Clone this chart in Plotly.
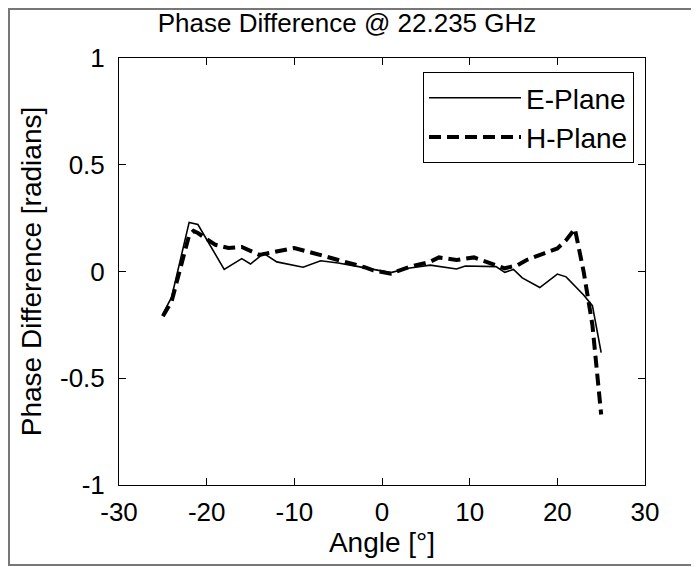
import plotly.graph_objects as go

# E-Plane (solid)
e_angle = [-25, -24, -22, -21, -18, -16, -15, -13.5, -12, -9, -7, -5, -3, -1, 1, 3, 5.5, 8.5, 9.5, 13, 14, 15, 16, 18, 20, 21, 23, 24, 25]
e_phase = [-0.20, -0.12, 0.23, 0.22, 0.01, 0.06, 0.035, 0.085, 0.045, 0.02, 0.05, 0.04, 0.025, 0.01, -0.005, 0.015, 0.03, 0.012, 0.026, 0.023, -0.004, 0.01, -0.03, -0.075, -0.012, -0.025, -0.11, -0.16, -0.38]

# H-Plane (dashed)
h_angle = [-25, -24, -22, -21.5, -21, -19, -17.5, -16, -14, -12, -10, -8, -6, -4, -2, -1, 1, 3, 5.5, 6.5, 8.5, 10.5, 12, 14, 15.5, 16.5, 18.5, 20, 21, 22, 23, 24, 25]
h_phase = [-0.21, -0.14, 0.17, 0.19, 0.18, 0.125, 0.11, 0.115, 0.078, 0.093, 0.11, 0.088, 0.066, 0.046, 0.02, 0.005, -0.01, 0.02, 0.046, 0.066, 0.054, 0.066, 0.046, 0.015, 0.03, 0.054, 0.085, 0.108, 0.147, 0.2, 0.0, -0.25, -0.67]

x_ticks = [-30, -20, -10, 0, 10, 20, 30]
x_tick_text = ["-30", "-20", "-10", "0", "10", "20", "30"]
y_ticks = [-1, -0.5, 0, 0.5, 1]
y_tick_text = ["-1", "-0.5", "0", "0.5", "1"]

FONT = "Liberation Sans, Arial, sans-serif"
FS = 26

fig = go.Figure()
fig.add_trace(go.Scatter(x=e_angle, y=e_phase, mode="lines", name="E-Plane",
                         line=dict(color="black", width=1.6)))
fig.add_trace(go.Scatter(x=h_angle, y=h_phase, mode="lines", name="H-Plane",
                         line=dict(color="black", width=4, dash="12px,6px")))

# page has an 8px body margin, so the figure is sized/offset accordingly
W, H = 691, 559
L, R, T, B = 111, 637, 50, 477
pw, ph = R - L, B - T

fig.update_layout(
    width=W, height=H,
    margin=dict(l=L, r=W - R, t=T, b=H - B),
    paper_bgcolor="white", plot_bgcolor="white",
    font=dict(family=FONT, size=FS, color="black"),
    title=dict(text="Phase Difference @ 22.235 GHz", x=339 / W, xanchor="center",
               y=1 - 15 / H, yanchor="middle", font=dict(size=26)),
    showlegend=True,
    legend=dict(x=(626 - L) / pw, y=1 - (64 - T) / ph, xanchor="right", yanchor="top",
                bgcolor="white", bordercolor="black", borderwidth=1,
                font=dict(size=28), itemwidth=92, tracegroupgap=0),
    xaxis=dict(range=[-30, 30], tickvals=x_ticks, ticktext=x_tick_text, ticks="inside", ticklen=7,
               tickcolor="black", showline=True, linecolor="black", linewidth=1, mirror="ticks",
               showgrid=False, zeroline=False, tickfont=dict(size=FS), ticklabelstandoff=4,
               title=dict(text="Angle [°]", standoff=2, font=dict(size=28))),
    yaxis=dict(range=[-1, 1], tickvals=y_ticks, ticktext=y_tick_text, ticks="inside", ticklen=7,
               tickcolor="black", showline=True, linecolor="black", linewidth=1, mirror="ticks",
               showgrid=False, zeroline=False, tickfont=dict(size=FS), ticklabelstandoff=8,
               title=dict(text="Phase Difference [radians]", standoff=10, font=dict(size=28))),
    shapes=[dict(type="rect", xref="paper", yref="paper",
                 x0=(1 - L) / pw, x1=(689 - L) / pw,
                 y0=1 - (557 - T) / ph, y1=1 - (1 - T) / ph,
                 line=dict(color="#777777", width=2), layer="below")],
)

fig.write_html("out.html")
